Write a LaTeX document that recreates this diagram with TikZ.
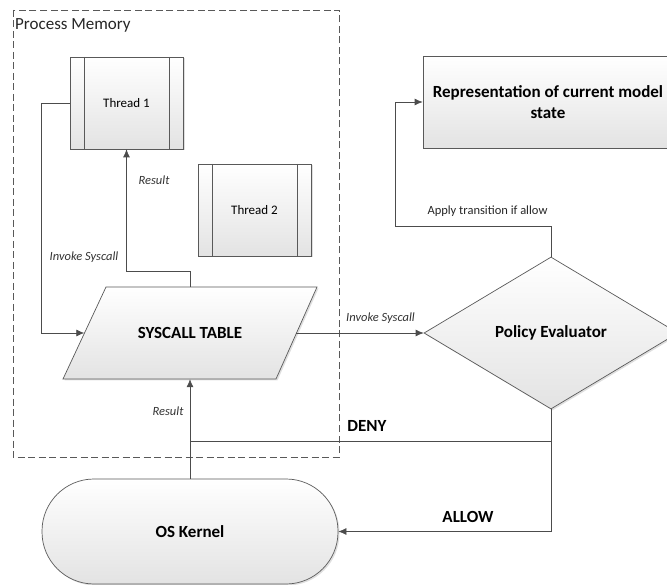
\documentclass[tikz,border=0pt]{standalone}
\usepackage{fontspec}
\setmainfont{Carlito}
\usetikzlibrary{shapes.geometric,arrows.meta,shadows}
\begin{document}
\begin{tikzpicture}[x=1pt,y=-1pt,
  shapebox/.style={draw=black!65, line width=0.7pt, top color=white, bottom color=black!11,
     drop shadow={shadow xshift=1.5pt, shadow yshift=-1.5pt, opacity=0.25, fill=black!50}},
  threadbox/.style={shapebox, rectangle, minimum width=113pt, minimum height=92pt, inner sep=0pt,
     font=\fontsize{13}{15}\selectfont,
     path picture={\draw[black!65, line width=0.7pt]
        ([xshift=14pt]path picture bounding box.north west) -- ([xshift=14pt]path picture bounding box.south west)
        ([xshift=-14pt]path picture bounding box.north east) -- ([xshift=-14pt]path picture bounding box.south east);}},
  boldlabel/.style={font=\bfseries\fontsize{17}{21}\selectfont},
  itlabel/.style={font=\itshape\fontsize{12.5}{15}\selectfont, text=black!80},
  conn/.style={draw=black!70, line width=0.7pt},
  arr/.style={conn, -{Latex[length=8pt,width=7pt]}}
]
\useasboundingbox (0,0) rectangle (667,585);

% process memory frame
\draw[black!65, line width=0.7pt, dash pattern=on 7pt off 3.5pt] (13,10) rectangle (339,457);
\node[anchor=west, inner sep=0pt, font=\fontsize{17}{20}\selectfont, text=black!85] (pm) at (15,25) {Process Memory};

% nodes
\node[threadbox] (t1) at (126.5,103) {Thread 1};
\node[threadbox] (t2) at (254.5,210) {Thread 2};
\path[shapebox] (106,287) -- (317,287) -- (276,379) -- (63,379) -- cycle;
\node[rectangle, minimum width=211pt, minimum height=92pt, inner sep=0pt,
      boldlabel] (st) at (190,333) {SYSCALL TABLE};
\node[shapebox, diamond, minimum width=254pt, minimum height=152pt, inner sep=0pt,
      boldlabel] (pe) at (551,333) {Policy Evaluator};
\node[shapebox, rectangle, minimum width=250pt, minimum height=92pt, inner sep=0pt,
      align=center, boldlabel] (rep) at (548,102) {Representation of current model\\state};
\node[shapebox, rectangle, rounded corners=52pt, minimum width=296pt, minimum height=105pt,
      inner sep=0pt, boldlabel] (ok) at (190,531.5) {OS Kernel};

% connectors
\draw[arr] (t1.west) -- ++(-28,0) |- (st.west);
\draw[arr] (st.north) -- ++(0,-15) -| (t1.south);
\draw[arr] (st.east) -- (pe.west);
\draw[arr] (pe.north) |- (395,226) |- (rep.west);
\coordinate (j) at (190,441);
\draw[conn] (pe.south) |- (j);
\draw[arr] (pe.south) |- (ok.east);
\draw[arr] (ok.north) -- (st.south);

% labels
\node[itlabel] (l1) at (84,257) {Invoke Syscall};
\node[itlabel] (l2) at (154,180) {Result};
\node[itlabel] (l3) at (380.5,318) {Invoke Syscall};
\node[font=\fontsize{12.5}{15}\selectfont, text=black!85] (l4) at (487.5,211) {Apply transition if allow};
\node[itlabel] (l5) at (168,411) {Result};
\node[boldlabel] (l6) at (367,426) {DENY};
\node[boldlabel] (l7) at (468,517) {ALLOW};
\end{tikzpicture}
\end{document}
